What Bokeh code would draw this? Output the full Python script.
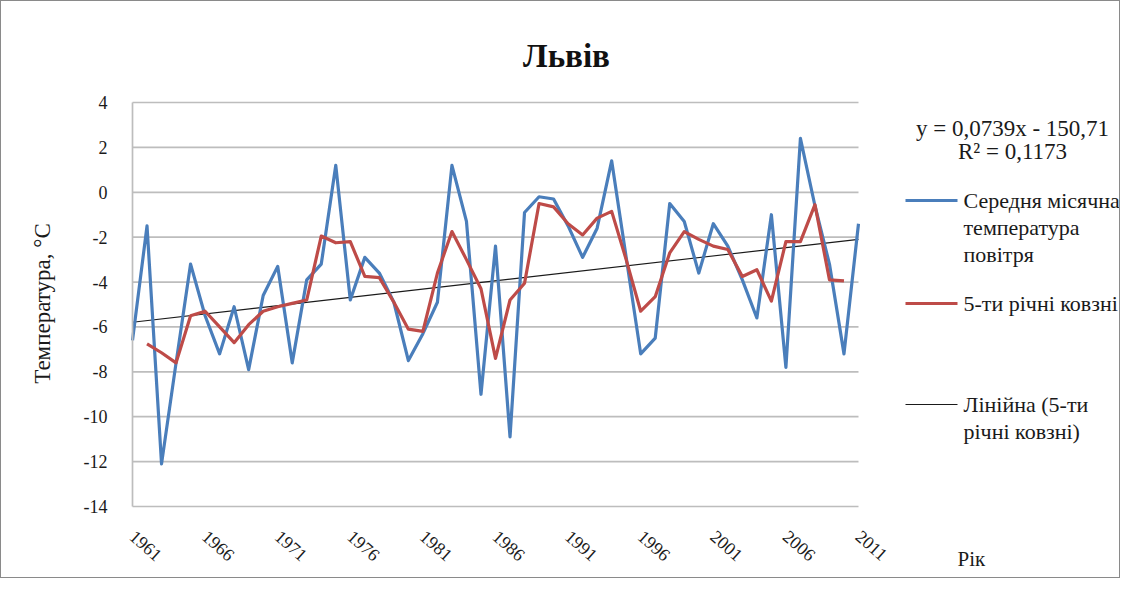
import math
from bokeh.plotting import figure
from bokeh.models import Range1d, FixedTicker
from bokeh.core.properties import value
from bokeh.embed import file_html
from bokeh.resources import INLINE

# ---------------- data ----------------
years = [1961, 1962, 1963, 1964, 1965, 1966, 1967, 1968, 1969, 1970,
         1971, 1972, 1973, 1974, 1975, 1976, 1977, 1978, 1979, 1980,
         1981, 1982, 1983, 1984, 1985, 1986, 1987, 1988, 1989, 1990,
         1991, 1992, 1993, 1994, 1995, 1996, 1997, 1998, 1999, 2000,
         2001, 2002, 2003, 2004, 2005, 2006, 2007, 2008, 2009, 2010, 2011]

temp_mean = [-6.6, -1.5, -12.1, -7.6, -3.2, -5.5, -7.2, -5.1, -7.9, -4.6,
             -3.3, -7.6, -3.9, -3.2, 1.2, -4.8, -2.9, -3.6, -4.9, -7.5,
             -6.3, -4.9, 1.2, -1.3, -9.0, -2.4, -10.9, -0.9, -0.2, -0.3,
             -1.5, -2.9, -1.6, 1.4, -2.9, -7.2, -6.5, -0.5, -1.3, -3.6,
             -1.4, -2.4, -3.9, -5.6, -1.0, -7.8, 2.4, -0.6, -3.2, -7.2, -1.4]

NaN = float("nan")
moving_avg_5 = [NaN, -6.75, -7.15, -7.6, -5.5, -5.3, -6.0, -6.7, -5.9, -5.3,
                -5.1, -4.95, -4.8, -1.95, -2.25, -2.2, -3.75, -3.8, -4.9, -6.1,
                -6.2, -3.6, -1.75, -3.0, -4.3, -7.4, -4.8, -4.05, -0.5, -0.65,
                -1.4, -1.9, -1.15, -0.85, -3.0, -5.3, -4.65, -2.7, -1.75, -2.1,
                -2.4, -2.55, -3.75, -3.45, -4.85, -2.2, -2.2, -0.55, -3.9, -3.95, NaN]

trend_slope = 0.0739
trend_intercept = -150.71

y_ticks = [-14, -12, -10, -8, -6, -4, -2, 0, 2, 4]
y_tick_labels = ["-14", "-12", "-10", "-8", "-6", "-4", "-2", "0", "2", "4"]
x_ticks = [1961, 1966, 1971, 1976, 1981, 1986, 1991, 1996, 2001, 2006, 2011]

title_text = "Львів"
y_label = "Температура, °С"
x_label = "Рік"
eq_lines = ["y = 0,0739x - 150,71", "R² = 0,1173"]
legend_blue = ["Середня місячна", "температура", "повітря"]
legend_red = ["5-ти річні ковзні"]
legend_trend = ["Лінійна (5-ти", "річні ковзні)"]

# ---------------- styles / geometry ----------------
FONT = "Liberation Serif, Times New Roman, DejaVu Serif, serif"
BLUE = "#4A7EBB"
RED = "#BE4B48"
TREND = "#1a1a1a"
GRID = "#bdbdbd"
TXT = "#1a1a1a"

W, H = 1120, 578
OFF = 1                      # picture offset of the figure's inner origin
CH_L, CH_R = 132, 858        # picture x of first / last year
CH_T, CH_B = 102, 506        # picture y of top / bottom y tick
PX_X = (CH_R - CH_L) / (years[-1] - years[0])
PX_Y = (CH_B - CH_T) / (y_ticks[-1] - y_ticks[0])


def X(px):
    return years[0] + (px - CH_L) / PX_X


def Y(py):
    return y_ticks[-1] - (py - CH_T) / PX_Y


p = figure(width=W, height=H,
           x_range=Range1d(X(OFF), X(OFF + W)),
           y_range=Range1d(Y(OFF + H), Y(OFF)),
           output_backend="svg", toolbar_location=None, min_border=0)
p.styles = {"border": "1px solid #8a8a8a"}
p.outline_line_color = None
p.background_fill_color = "white"
p.border_fill_color = "white"
p.grid.visible = False

# horizontal grid lines across the category span
p.segment(x0=[years[0]] * len(y_ticks), x1=[years[-1]] * len(y_ticks),
          y0=y_ticks, y1=y_ticks, line_color=GRID, line_width=1.7)

yax = p.yaxis[0]
yax.fixed_location = years[0]
yax.bounds = (y_ticks[0], y_ticks[-1])
yax.ticker = FixedTicker(ticks=y_ticks)
yax.major_label_overrides = {t: s for t, s in zip(y_ticks, y_tick_labels)}
yax.axis_line_color = GRID
yax.axis_line_width = 1.7
yax.major_tick_line_color = None
yax.minor_tick_line_color = None
yax.major_label_standoff = 19
yax.major_label_text_font = FONT
yax.major_label_text_font_size = "18px"
yax.major_label_text_color = TXT

xax = p.xaxis[0]
xax.fixed_location = y_ticks[0]
xax.ticker = FixedTicker(ticks=x_ticks)
xax.axis_line_color = None
xax.major_tick_line_color = None
xax.minor_tick_line_color = None
xax.major_label_orientation = -0.72
xax.major_label_standoff = 21
xax.major_label_text_font = FONT
xax.major_label_text_font_size = "18px"
xax.major_label_text_color = TXT

# trend line from the regression equation
p.line([years[0], years[-1]],
       [trend_slope * years[0] + trend_intercept, trend_slope * years[-1] + trend_intercept],
       line_color=TREND, line_width=1.1)
p.line(years, temp_mean, line_color=BLUE, line_width=3.2, line_join="round")
p.line(years, moving_avg_5, line_color=RED, line_width=3.2, line_join="round")

# title and axis titles
p.text(x=[X(566)], y=[Y(55)], text=[title_text], text_align="center", text_baseline="middle",
       text_font=value(FONT), text_font_style="bold", text_font_size="33px", text_color="#111111")
p.text(x=[X(42)], y=[Y(303)], text=[y_label], angle=math.pi / 2, text_align="center",
       text_baseline="middle", text_font=value(FONT), text_font_size="23px", text_color=TXT)
p.text(x=[X(957)], y=[Y(558)], text=[x_label], text_align="left", text_baseline="middle",
       text_font=value(FONT), text_font_size="21px", text_color=TXT)

# legend
p.segment(x0=[X(905)] * 3, x1=[X(957)] * 3, y0=[Y(200), Y(303), Y(404)], y1=[Y(200), Y(303), Y(404)],
          line_color=[BLUE, RED, TREND], line_width=[3, 3, 1.1])
leg_txt = legend_blue + legend_red + legend_trend
leg_y = [Y(v) for v in (200, 227, 254, 303, 404, 431)]
p.text(x=[X(963)] * len(leg_txt), y=leg_y, text=leg_txt, text_align="left", text_baseline="middle",
       text_font=value(FONT), text_font_size="22px", text_color=TXT)
p.text(x=[X(1012)] * 2, y=[Y(128), Y(151)], text=eq_lines, text_align="center", text_baseline="middle",
       text_font=value(FONT), text_font_size="23px", text_color=TXT)

open("out.html", "w").write(file_html(p, INLINE))
